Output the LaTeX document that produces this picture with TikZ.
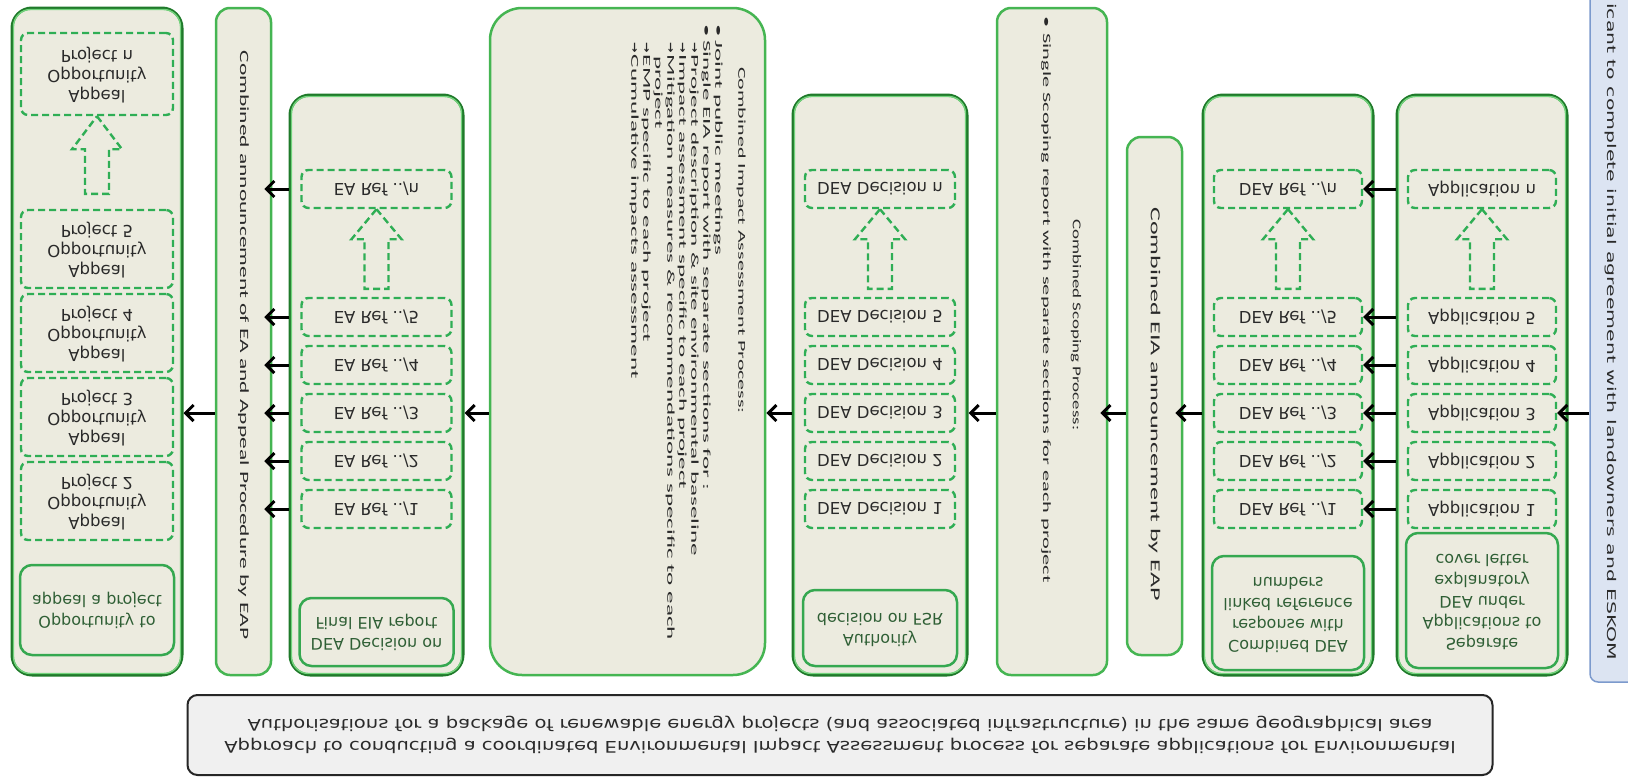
\documentclass[tikz,border=0pt]{standalone}
\usepackage{fontspec}
\usepackage{graphicx}
\setmainfont{DejaVu Sans}
\newfontfamily\carl{Carlito}
\newfontfamily\dejav{DejaVu Sans}
\usetikzlibrary{arrows.meta,calc}
\definecolor{cfill}{HTML}{ECEBDF}
\definecolor{gdark}{HTML}{1F7A2A}
\definecolor{glight}{HTML}{72D37C}
\definecolor{gmid}{HTML}{45B552}
\definecolor{gdash}{HTML}{2FAE55}
\definecolor{glab}{HTML}{35A850}
\definecolor{ltxt}{HTML}{2F5F35}
\definecolor{txt}{HTML}{2A2A2A}
\definecolor{bluefill}{HTML}{DCE4F2}
\definecolor{blueline}{HTML}{7C9ACD}
\definecolor{grayfill}{HTML}{F0F0F0}

\newcommand\flipit[1]{\scalebox{1}[-1]{#1}}
\newcommand\sarr{\scalebox{0.5}[1]{\dejav\bfseries →}}

\tikzset{
 colnode/.style={draw=gmid, line width=2.5pt, fill=cfill, rounded corners=14pt, inner sep=0pt},
 subcolnode/.style={draw=gdark, line width=3pt, fill=cfill, rounded corners=20pt, inner sep=0pt},
 dbox/.style={draw=gdash, line width=2.4pt, dash pattern=on 7pt off 4pt, rounded corners=7pt, inner sep=0pt, text=txt, font=\dejav\fontsize{16.5}{20}\selectfont},
 lbox/.style={draw=glab, line width=2.5pt, rounded corners=12pt, inner sep=0pt, text=ltxt, font=\dejav\fontsize{16}{21}\selectfont},
 arr/.style={draw=black, line width=3pt, -{Straight Barb[length=8pt,width=16pt]}},
 harr/.style={draw=gdash, line width=2.4pt, dash pattern=on 7pt off 4pt},
 vtext/.style={rotate=-90, inner sep=0pt, text=txt, font=\carl\fontsize{10.5}{12}\selectfont},
}

\newcommand\subcolumn[5]{%
 \node[subcolnode, minimum width=#4pt, minimum height=#5pt] (#1) at (#2,#3) {};
 \draw[glight, line width=1.4pt, rounded corners=17pt] ($(#1.north west)+(3,3)$) rectangle ($(#1.south east)+(-3,-3)$);}
\newcommand\rowbox[5]{\node[dbox, minimum width=#4pt, minimum height=38pt] (#1) at (#2,#3) {\flipit{#5}};}
\newcommand\hollowarr[4]{%
 \draw[harr] (#1.south) -- ++(25,#3) -- ++(-13,0) -- ($(#2.north)+(12,-#4)$) -- ($(#2.north)+(-12,-#4)$) -- ($(#1.south)+(-12,#3)$) -- ++(-13,0) -- cycle;}

\begin{document}
\begin{tikzpicture}[x=1pt,y=-1pt]
\useasboundingbox (0,0) rectangle (1628,779);
\coordinate (r3) at (0,413);

% applicant box (blue, cut at the top)
\node[draw=blueline, line width=1.5pt, fill=bluefill, rounded corners=8pt, minimum width=60pt, minimum height=712pt, inner sep=0pt] (blue) at (1620,326) {};
\node[vtext, font=\dejav\fontsize{12}{14}\selectfont, anchor=west] (bluetext) at (1611,3) {\scalebox{1.7}[1]{icant to complete initial agreement with landowners and ESKOM}};

% ---------- columns ----------
\subcolumn{appscol}{1482}{385}{170}{580}
\subcolumn{deacol}{1288}{385}{170}{580}
\subcolumn{fsrcol}{880}{385}{174}{580}
\subcolumn{feiacol}{376.5}{385}{173}{580}
\subcolumn{appealcol}{97}{341.5}{170}{667}

\node[colnode, minimum width=55pt, minimum height=518pt] (eiaann) at (1154.5,396) {};
\node[colnode, minimum width=110pt, minimum height=667pt] (scoping) at (1052,341.5) {};
\node[colnode, rounded corners=32pt, minimum width=275pt, minimum height=667pt] (impact) at (627.5,341.5) {};
\node[colnode, minimum width=55pt, minimum height=667pt] (eaann) at (243.5,341.5) {};

% ---------- applications ----------
\rowbox{appn}{1482}{189}{148}{Application n}
\rowbox{appv}{1482}{317}{148}{Application 5}
\rowbox{appiv}{1482}{365}{148}{Application 4}
\rowbox{appiii}{1482}{413}{148}{Application 3}
\rowbox{appii}{1482}{461}{148}{Application 2}
\rowbox{appi}{1482}{509}{148}{Application 1}
\hollowarr{appn}{appv}{30}{8}
\node[lbox, minimum width=152pt, minimum height=135pt] (appslab) at (1482,600.5) {\flipit{\begin{tabular}{@{}c@{}}Separate\\Applications to\\DEA under\\explanatory\\cover letter\end{tabular}}};

% ---------- DEA response ----------
\rowbox{dean}{1288}{189}{148}{DEA Ref ../n}
\rowbox{deav}{1288}{317}{148}{DEA Ref ../5}
\rowbox{deaiv}{1288}{365}{148}{DEA Ref ../4}
\rowbox{deaiii}{1288}{413}{148}{DEA Ref ../3}
\rowbox{deaii}{1288}{461}{148}{DEA Ref ../2}
\rowbox{deai}{1288}{509}{148}{DEA Ref ../1}
\hollowarr{dean}{deav}{30}{8}
\node[lbox, minimum width=152pt, minimum height=114pt] (dealab) at (1288,613) {\flipit{\begin{tabular}{@{}c@{}}Combined DEA\\response with\\linked reference\\numbers\end{tabular}}};

% ---------- DEA decision on FSR ----------
\rowbox{fsrn}{880}{189}{150}{DEA Decision n}
\rowbox{fsrv}{880}{317}{150}{DEA Decision 5}
\rowbox{fsriv}{880}{365}{150}{DEA Decision 4}
\rowbox{fsriii}{880}{413}{150}{DEA Decision 3}
\rowbox{fsrii}{880}{461}{150}{DEA Decision 2}
\rowbox{fsri}{880}{509}{150}{DEA Decision 1}
\hollowarr{fsrn}{fsrv}{30}{8}
\node[lbox, minimum width=154pt, minimum height=76pt] (fsrlab) at (880,628) {\flipit{\begin{tabular}{@{}c@{}}Authority\\decision on FSR\end{tabular}}};

% ---------- final EIA ----------
\rowbox{ean}{376.5}{189}{150}{EA Ref ../n}
\rowbox{eav}{376.5}{317}{150}{EA Ref ../5}
\rowbox{eaiv}{376.5}{365}{150}{EA Ref ../4}
\rowbox{eaiii}{376.5}{413}{150}{EA Ref ../3}
\rowbox{eaii}{376.5}{461}{150}{EA Ref ../2}
\rowbox{eai}{376.5}{509}{150}{EA Ref ../1}
\hollowarr{ean}{eav}{30}{8}
\node[lbox, minimum width=154pt, minimum height=68pt] (feialab) at (376.5,632) {\flipit{\begin{tabular}{@{}c@{}}DEA Decision on\\Final EIA report\end{tabular}}};

% ---------- appeal ----------
\node[dbox, minimum width=152pt, minimum height=82pt] (appealn) at (97,74) {\flipit{\begin{tabular}{@{}c@{}}Appeal\\Opportunity\\Project n\end{tabular}}};
\node[dbox, minimum width=152pt, minimum height=78pt] (appealv) at (97,249) {\flipit{\begin{tabular}{@{}c@{}}Appeal\\Opportunity\\Project 5\end{tabular}}};
\node[dbox, minimum width=152pt, minimum height=78pt] (appealiv) at (97,333) {\flipit{\begin{tabular}{@{}c@{}}Appeal\\Opportunity\\Project 4\end{tabular}}};
\node[dbox, minimum width=152pt, minimum height=78pt] (appealiii) at (97,417) {\flipit{\begin{tabular}{@{}c@{}}Appeal\\Opportunity\\Project 3\end{tabular}}};
\node[dbox, minimum width=152pt, minimum height=78pt] (appealii) at (97,501) {\flipit{\begin{tabular}{@{}c@{}}Appeal\\Opportunity\\Project 2\end{tabular}}};
\hollowarr{appealn}{appealv}{33}{15}
\node[lbox, minimum width=154pt, minimum height=90pt] (appeallab) at (97,610) {\flipit{\begin{tabular}{@{}c@{}}Opportunity to\\appeal a project\end{tabular}}};

% ---------- rotated column texts ----------
\node[vtext, font=\carl\fontsize{13.7}{15}\selectfont] (eiaanntext) at (1154.5,404) {\scalebox{1.9}[1]{Combined EIA announcement by EAP}};
\node[vtext, font=\carl\fontsize{12}{13}\selectfont] (scophead) at (1076,325) {\scalebox{1.58}[1]{Combined Scoping Process:}};
\node[vtext, font=\carl\fontsize{11.2}{13}\selectfont, anchor=west] (scopbul) at (1046,16) {\scalebox{2.0}[1]{\textbullet\hspace{3pt}Single Scoping report with separate sections for each project}};
\node[vtext, anchor=north west] (imptext) at (747,12) {\scalebox{2.39}[1]{\begin{tabular}{@{}l@{}}
\hspace{23pt}\scalebox{0.875}[1]{Combined Impact Assessment Process:}\\[11pt]
\hspace{5pt}\textbullet\hspace{1.5pt}Joint public meetings\\
\hspace{5pt}\textbullet\hspace{1.5pt}Single EIA report with separate sections for :\\
\hspace{12.5pt}\sarr\hspace{1pt}Project description \& site environmental baseline\\
\hspace{12.5pt}\sarr\hspace{1pt}Impact assessment specific to each project\\
\hspace{12.5pt}\sarr\hspace{1pt}Mitigation measures \& recommendations specific to each\\
\hspace{18.5pt}project\\
\hspace{12.5pt}\sarr\hspace{1pt}EMP specific to each project\\
\hspace{12.5pt}\sarr\hspace{1pt}Cumulative impacts assessment
\end{tabular}}};
\node[vtext, font=\carl\fontsize{12.6}{14}\selectfont] (eaanntext) at (243.5,345) {\scalebox{1.86}[1]{Combined announcement of EA and Appeal Procedure by EAP}};

% ---------- bottom caption ----------
\node[draw=black!85, line width=2pt, fill=grayfill, rounded corners=10pt, minimum width=1305pt, minimum height=80pt, inner sep=0pt, text=txt, font=\dejav\fontsize{16}{22}\selectfont] (caption) at (840,735) {\flipit{\scalebox{1.22}[1]{\begin{tabular}{@{}c@{}}Approach to conducting a coordinated Environmental Impact Assessment process for separate applications for Environmental\\Authorisations for a package of renewable energy projects (and associated infrastructure) in the same geographical area\end{tabular}}}};

% ---------- connectors ----------
\draw[arr] (blue.west |- appiii) -- (appiii.east);
\foreach \r in {n,v,iv,iii,ii,i}{
  \draw[arr] (appscol.west |- app\r) -- (dea\r.east);
  \draw[arr] (feiacol.west |- ea\r) -- ($(eaann.east |- ea\r)+(-8,0)$);
}
\draw[arr] (deacol.west |- r3) -- ($(eiaann.east |- r3)+(-8,0)$);
\draw[arr] (eiaann.west |- r3) -- ($(scoping.east |- r3)+(-8,0)$);
\draw[arr] (scoping.west |- r3) -- (fsrcol.east |- r3);
\draw[arr] (fsrcol.west |- r3) -- (impact.east |- r3);
\draw[arr] (impact.west |- r3) -- (feiacol.east |- r3);
\draw[arr] (eaann.west |- r3) -- (appealcol.east |- r3);
\end{tikzpicture}
\end{document}
